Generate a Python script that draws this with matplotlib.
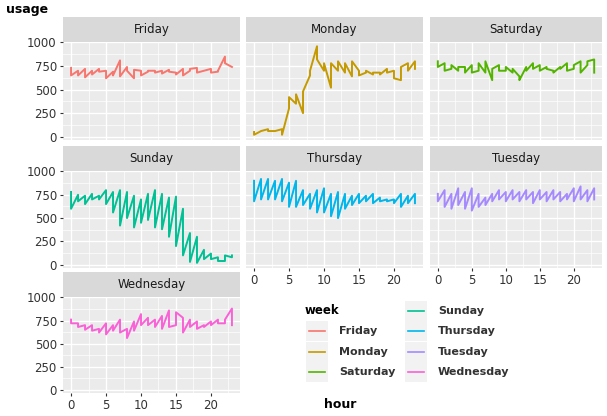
import matplotlib.pyplot as plt
import numpy as np

# two readings per hour, 0..23
hours = np.repeat(np.arange(24), 2)

friday = [730, 650, 700, 650, 720, 630, 700, 660, 720, 690, 700, 620,
          690, 650, 810, 640, 740, 700, 620, 710, 700, 650, 690, 700,
          700, 680, 700, 670, 710, 690, 680, 660, 720, 650, 700, 720,
          730, 680, 700, 700, 720, 680, 690, 700, 850, 780, 740, 740]
monday = [50, 20, 60, 60, 80, 60, 60, 60, 80, 20, 300, 420,
          350, 450, 250, 480, 650, 700, 960, 820, 700, 780, 520, 780,
          700, 800, 680, 780, 640, 800, 700, 650, 680, 700, 660, 680,
          680, 660, 720, 680, 700, 620, 600, 740, 780, 700, 800, 720]
saturday = [800, 740, 780, 700, 720, 760, 700, 740, 740, 680, 760, 680,
            700, 780, 680, 800, 600, 720, 760, 700, 700, 740, 680, 720,
            640, 600, 740, 700, 780, 720, 760, 700, 740, 720, 700, 680,
            740, 720, 780, 700, 720, 760, 800, 680, 760, 800, 820, 680]
sunday = [780, 600, 750, 680, 740, 650, 760, 700, 740, 700, 800, 650,
          780, 560, 800, 420, 780, 500, 740, 400, 700, 450, 760, 480,
          800, 400, 760, 380, 720, 300, 730, 200, 600, 100, 340, 30,
          300, 20, 160, 60, 120, 60, 80, 40, 40, 100, 80, 100]
thursday = [900, 680, 920, 700, 920, 700, 900, 700, 920, 680, 880, 620,
            900, 620, 800, 640, 760, 600, 800, 560, 820, 560, 760, 520,
            780, 500, 760, 600, 740, 640, 760, 660, 740, 680, 760, 660,
            720, 680, 700, 680, 700, 660, 760, 620, 740, 660, 760, 660]
tuesday = [760, 680, 800, 620, 760, 600, 820, 640, 780, 600, 820, 580,
           760, 620, 720, 640, 760, 680, 800, 700, 780, 680, 800, 700,
           780, 680, 800, 700, 780, 660, 800, 700, 780, 680, 800, 700,
           780, 680, 760, 700, 820, 680, 840, 700, 800, 680, 820, 700]
wednesday = [760, 720, 720, 680, 700, 650, 700, 640, 660, 620, 720, 600,
             700, 640, 760, 620, 660, 560, 740, 640, 820, 700, 780, 700,
             760, 680, 800, 660, 860, 680, 700, 840, 780, 620, 760, 680,
             740, 660, 700, 680, 740, 700, 760, 720, 720, 760, 880, 700]

days = ["Friday", "Monday", "Saturday", "Sunday", "Thursday", "Tuesday", "Wednesday"]
series = [friday, monday, saturday, sunday, thursday, tuesday, wednesday]
colors = ["#F8766D", "#C49A00", "#53B400", "#00C094", "#00B6EB", "#A58AFF", "#FB61D7"]

W, H = 607, 416
fig = plt.figure(figsize=(6.07, 4.16), dpi=100)

def box(l, t, r, b):
    return [l / W, 1 - b / H, (r - l) / W, (b - t) / H]

cols = [(63, 240), (246, 423), (430, 602)]
rows = [(42, 140), (171, 268), (297, 393)]
strip_h = 25
txt = "#333333"

for i, (day, vals, c) in enumerate(zip(days, series, colors)):
    r, k = divmod(i, 3)
    l, rr = cols[k]
    t, b = rows[r]
    ax = fig.add_axes(box(l, t, rr, b))
    ax.set_facecolor("#EBEBEB")
    ax.plot(hours, vals, color=c, lw=1.4, zorder=3)
    ax.set_xlim(-1.15, 24.15)
    ax.set_ylim(-35, 1005)
    ax.set_xticks([0, 5, 10, 15, 20])
    ax.set_xticks([2.5, 7.5, 12.5, 17.5, 22.5], minor=True)
    ax.set_yticks([0, 250, 500, 750, 1000])
    ax.set_yticks([125, 375, 625, 875], minor=True)
    ax.grid(which="major", color="white", lw=1.0)
    ax.grid(which="minor", color="white", lw=0.5)
    ax.set_axisbelow(True)
    for s in ax.spines.values():
        s.set_visible(False)
    ax.tick_params(which="major", length=2.5, color=txt, labelsize=8.5,
                   labelcolor=txt, pad=2)
    ax.tick_params(which="minor", length=0)
    show_x = (r == 2) or (r == 1 and k > 0)
    if not show_x:
        ax.tick_params(axis="x", length=0, labelbottom=False)
    if k != 0:
        ax.tick_params(axis="y", length=0, labelleft=False)
    sax = fig.add_axes(box(l, t - strip_h, rr, t))
    sax.set_facecolor("#D9D9D9")
    sax.set_xticks([])
    sax.set_yticks([])
    for s in sax.spines.values():
        s.set_visible(False)
    sax.text(0.5, 0.5, day, ha="center", va="center", fontsize=8.5, color="#1A1A1A",
             transform=sax.transAxes)

fig.text(27 / W, 1 - 10 / H, "usage", ha="center", va="center", fontsize=9,
         fontweight="bold")
fig.text(340 / W, 1 - 405 / H, "hour", ha="center", va="center", fontsize=9,
         fontweight="bold")

# legend
lax = fig.add_axes([0, 0, 1, 1])
lax.set_xlim(0, W)
lax.set_ylim(H, 0)
lax.axis("off")
lax.text(305, 310, "week", ha="left", va="center", fontsize=8.5, fontweight="bold")
key_x = [306, 405]
key_y = [[331, 352, 372], [311, 331, 352, 372]]
n = 0
for k in range(2):
    for y in key_y[k]:
        lax.add_patch(plt.Rectangle((key_x[k], y - 10), 22, 20, color="#F2F2F2", lw=0))
        lax.plot([key_x[k] + 3, key_x[k] + 19], [y, y], color=colors[n], lw=1.2)
        lax.text(key_x[k] + 33, y, days[n], ha="left", va="center", fontsize=8,
                 fontweight="bold", color="#333333")
        n += 1

fig.savefig("out.png", dpi=100)
